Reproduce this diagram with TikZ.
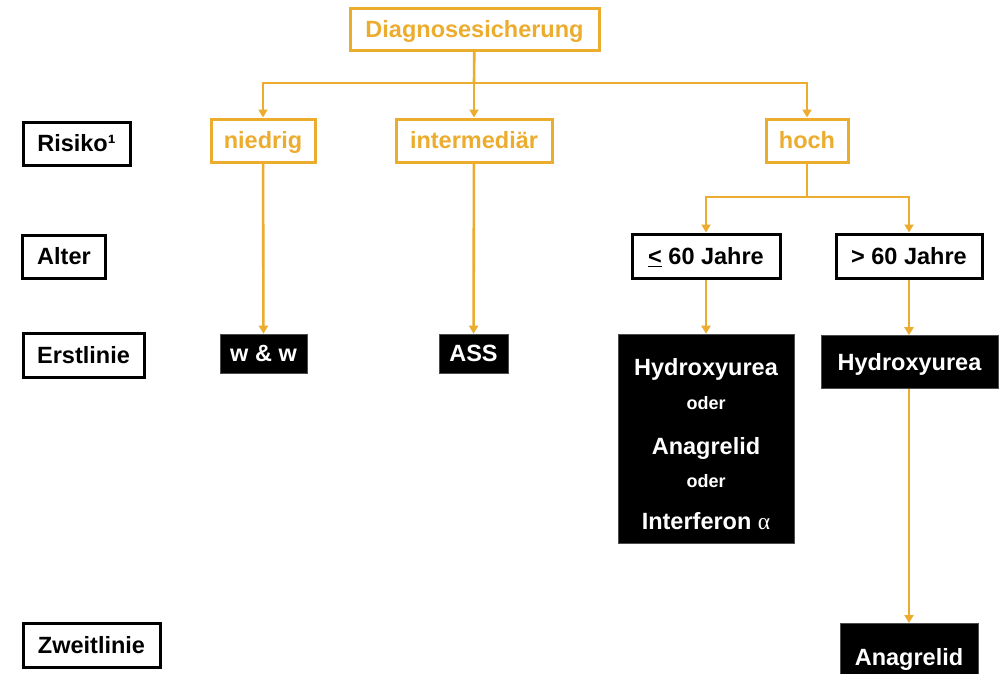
\documentclass[tikz,border=0pt]{standalone}
\usepackage{fontspec}
\setmainfont{Liberation Sans}
\newfontfamily\greekfont{Liberation Serif}
\usetikzlibrary{arrows.meta}
\definecolor{gold}{RGB}{236,172,46}
\begin{document}
\begin{tikzpicture}[x=1pt,y=-1pt,
  every node/.style={font=\fontsize{23.5}{28}\selectfont\bfseries, inner sep=0pt, text height=16.8pt, text depth=0pt},
  obox/.style={draw=gold, line width=3pt, text=gold, minimum height=43pt},
  kbox/.style={draw=black, line width=3pt, text=black, minimum height=43pt, fill=white},
  bbox/.style={fill=black, draw=black!70, line width=0.6pt, text=white},
  oline/.style={draw=gold, line width=2.6pt},
  arr/.style={oline, -{Triangle[width=9pt,length=8pt]}},
  small/.style={font=\fontsize{18}{20}\selectfont\bfseries, text height=9pt}
]
\useasboundingbox (0,0) rectangle (1001,673);
\clip (0,0) rectangle (1001,673);
\fill[white] (0,0) rectangle (1001,673);

% row labels
\node[kbox, minimum width=107pt] (risiko) at (76.5,143.5) {Risiko¹};
\node[kbox, minimum width=83pt] (alter) at (64,256.5) {Alter};
\node[kbox, minimum width=121pt, minimum height=44pt] (erst) at (83.5,355) {Erstlinie};
\node[kbox, minimum width=137pt, minimum height=44pt] (zweit) at (91.5,645) {Zweitlinie};

% top
\node[obox, minimum width=249pt, minimum height=42pt] (diag) at (474.5,29) {Diagnosesicherung};
\node[obox, minimum width=104pt] (nied) at (263,140.5) {niedrig};
\node[obox, minimum width=156pt] (inter) at (474,140.5) {intermediär};
\node[obox, minimum width=82pt] (hoch) at (807,140.5) {hoch};

% age
\node[kbox, minimum width=148pt, minimum height=44pt] (le) at (706,256) {\underline{<} 60 Jahre};
\node[kbox, minimum width=146pt, minimum height=44pt] (gt) at (909,256) {> 60 Jahre};

% first line
\node[bbox, minimum width=87pt, minimum height=39pt] (ww) at (263.5,353.5) {w \& w};
\node[bbox, minimum width=69pt, minimum height=39pt] (ass) at (473.5,353.5) {ASS};
\node[bbox, minimum width=176pt, minimum height=209pt] (hyd1) at (706,438.5) {};
\node[text=white] (h1) at (706,367) {Hydroxyurea};
\node[text=white, small] (o1) at (706,405) {oder};
\node[text=white] (a1) at (706,446.5) {Anagrelid};
\node[text=white, small] (o2) at (706,483) {oder};
\node[text=white] (i1) at (706,521.5) {Interferon {\greekfont\mdseries α}};
\node[bbox, minimum width=177pt, minimum height=53pt] (hyd2) at (909.5,362) {Hydroxyurea};

% second line
\node[bbox, anchor=north, minimum width=138pt, inner ysep=25pt, text depth=5pt] (ana) at (909,623) {Anagrelid};

% connectors
\coordinate (j1) at (474,83);
\coordinate (j2) at (807,197);
\draw[oline] (diag) -- (j1);
\draw[arr] (j1) -| (nied);
\draw[arr] (j1) -| (hoch);
\draw[arr] (j1) -- (inter);
\draw[arr] (nied) -- (ww);
\draw[arr] (inter) -- (ass);
\draw[oline] (hoch) -- (j2);
\draw[arr] (j2) -| (le);
\draw[arr] (j2) -| (gt);
\draw[arr] (le) -- (le |- hyd1.north);
\draw[arr] (gt) -- (gt |- hyd2.north);
\draw[arr] (hyd2.south -| ana.north) -- (ana);
\end{tikzpicture}
\end{document}
